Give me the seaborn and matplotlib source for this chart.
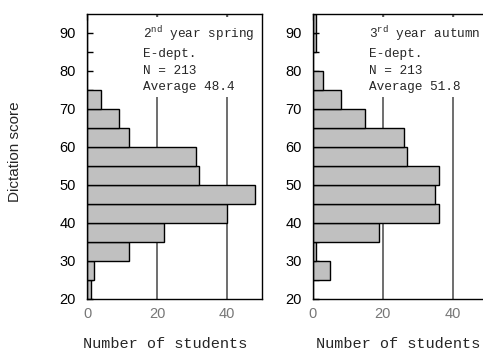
import numpy as np
import pandas as pd
import matplotlib
matplotlib.use("Agg")
import matplotlib.pyplot as plt
import seaborn as sns

# score bins (lower edges, width 5) and number of students per bin
bin_edges = [20, 25, 30, 35, 40, 45, 50, 55, 60, 65, 70, 75, 80, 85, 90, 95]
spring_counts = [1, 2, 12, 22, 40, 48, 32, 31, 12, 9, 4, 0, 0, 0, 0]
autumn_counts = [0, 5, 1, 19, 36, 35, 36, 27, 26, 15, 8, 3, 0, 1, 1]

panel_titles = ["2$^{\\rm nd}$ year spring", "3$^{\\rm rd}$ year autumn"]
panel_dept = ["E-dept.", "E-dept."]
panel_n = [213, 213]
panel_avg = [48.4, 51.8]

x_ticks = [0, 20, 40]
y_ticks = [20, 30, 40, 50, 60, 70, 80, 90]

sns.set_style("ticks")
plt.rcParams["font.family"] = ["Liberation Sans", "DejaVu Sans"]
plt.rcParams["mathtext.fontset"] = "custom"
plt.rcParams["mathtext.rm"] = "Liberation Mono"
plt.rcParams["xtick.direction"] = "in"
plt.rcParams["ytick.direction"] = "in"

centers = [(a + b) / 2 for a, b in zip(bin_edges[:-1], bin_edges[1:])]

fig = plt.figure(figsize=(4.83, 3.55), dpi=100)
ax_w = 175 / 483
ax_h = 285 / 355
ax_b = 1 - 299 / 355
lefts = [87 / 483, 312.7 / 483]
xlabel_x = [0.446, 0.49]

for i, counts in enumerate([spring_counts, autumn_counts]):
    ax = fig.add_axes([lefts[i], ax_b, ax_w, ax_h])
    df = pd.DataFrame({"score": centers, "count": counts})
    df = df[df["count"] > 0]
    sns.histplot(
        data=df,
        y="score",
        weights="count",
        bins=bin_edges,
        color="#c0c0c0",
        edgecolor="black",
        linewidth=1,
        alpha=1,
        ax=ax,
        zorder=2,
    )
    for xv in x_ticks[1:]:
        ax.axvline(xv, color="#555555", linewidth=1.2, zorder=1)
    ax.set_xlim(0, 50)
    ax.set_ylim(20, 95)
    ax.set_xticks(x_ticks)
    ax.set_yticks(y_ticks)
    ax.set_yticks(np.arange(25, 95, 10), minor=True)
    ax.tick_params(axis="y", which="major", direction="in", length=4, width=1,
                   color="black", labelsize=10.5, labelcolor="black",
                   left=True, right=False, pad=8)
    ax.tick_params(axis="y", which="minor", direction="in", length=4, width=1,
                   color="black", left=True, right=False)
    ax.tick_params(axis="x", which="major", direction="in", length=4, width=1,
                   color="#555555", top=True, bottom=False,
                   labelsize=10.5, labelcolor="#777777", pad=6)
    for s in ax.spines.values():
        s.set_visible(True)
        s.set_color("black")
        s.set_linewidth(1)
    ax.set_ylabel("")
    ax.set_xlabel("Number of students", family=["Liberation Mono", "DejaVu Sans Mono"],
                  fontsize=11)
    ax.xaxis.set_label_coords(xlabel_x[i], -0.135)
    label = (f"{panel_titles[i]}\n{panel_dept[i]}\nN = {panel_n[i]}\n"
             f"Average {panel_avg[i]}")
    ax.text(0.32, 0.965, label, transform=ax.transAxes, ha="left", va="top",
            family=["Liberation Mono", "DejaVu Sans Mono"], fontsize=9.2,
            linespacing=1.5, zorder=3,
            bbox=dict(facecolor="white", edgecolor="none", pad=3))

fig.text(15 / 483, 1 - 152 / 355, "Dictation score", rotation=90, ha="center",
         va="center", fontsize=11)

fig.savefig("out.png", dpi=100)
